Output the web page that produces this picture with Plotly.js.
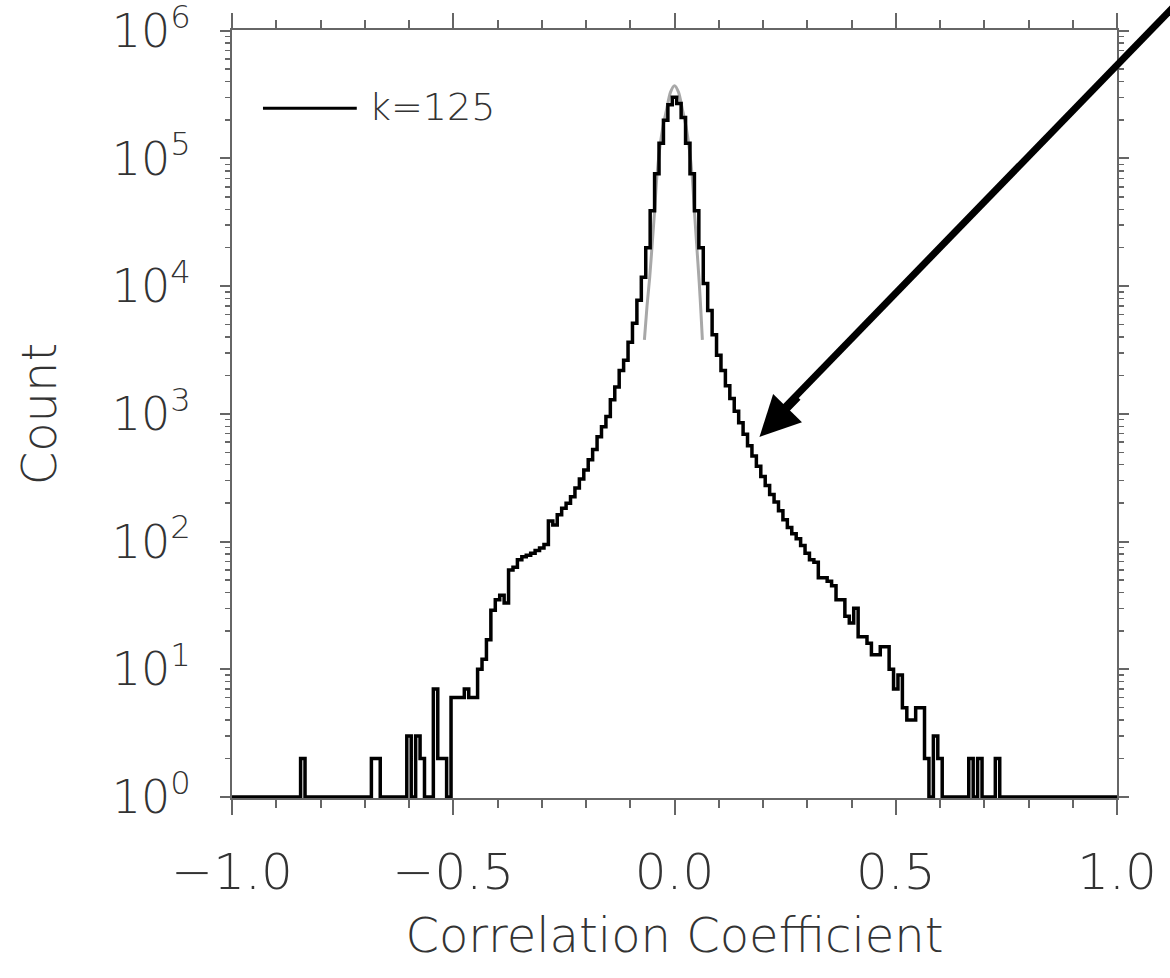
<!DOCTYPE html>
<html>
<head>
<meta charset="utf-8">
<script src="https://cdn.plot.ly/plotly-3.0.1.min.js"></script>
<style>
  html, body { margin: 0; padding: 0; background: #ffffff; }
  #chart { width: 1170px; height: 978px; }
</style>
</head>
<body>
<div id="chart"></div>
<script>
// ---- Data ----
// Histogram bin centres: -1.00 ... 1.00, width 0.01
const binStart = -1.0;
const binWidth = 0.01;

// Counts, left tail (-1.00 .. -0.51)
const countsLeftTail = [
  1, 1, 1, 1, 1, 1, 1, 1, 1, 1, 1, 1, 1, 1, 1, 1,      // -1.00 .. -0.85
  2,                                                   // -0.84
  1, 1, 1, 1, 1, 1, 1, 1, 1, 1, 1, 1, 1, 1, 1,         // -0.83 .. -0.69
  2, 2,                                                // -0.68, -0.67
  1, 1, 1, 1, 1, 1,                                    // -0.66 .. -0.61
  3, 1, 3, 2, 1, 1, 7, 2, 2, 1                         // -0.60 .. -0.51
];
// Counts, left flank (-0.50 .. -0.01)
const countsLeftFlank = [
  6, 6, 6, 7, 6, 6, 10, 12, 17, 29,                    // -0.50 .. -0.41
  35, 38, 33, 60, 63, 72, 76, 78, 81, 85,              // -0.40 .. -0.31
  89, 95, 145, 135, 162, 182, 200, 224, 263, 309,      // -0.30 .. -0.21
  363, 437, 525, 661, 794, 955, 1288, 1622, 2188, 2630,// -0.20 .. -0.11
  3631, 5129, 7762, 11750, 19950, 38900, 75860, 131800, 199500, 263000 // -0.10 .. -0.01
];
// Peak bin (0.00)
const countsPeak = [302000];
// Counts, right flank (0.01 .. 0.60)
const countsRightFlank = [
  269200, 208900, 131800, 75860, 38900, 19950, 10470, 6457, 4169, 2884, // 0.01 .. 0.10
  2188, 1660, 1318, 1047, 851, 692, 562, 468, 389, 324,                 // 0.11 .. 0.20
  275, 234, 204, 174, 148, 129, 115, 105, 93, 81,                       // 0.21 .. 0.30
  72, 69, 52, 52, 49, 45, 35, 35, 26, 23,                               // 0.31 .. 0.40
  30, 18, 18, 16, 13, 13, 15, 15, 10, 7,                                // 0.41 .. 0.50
  9, 5, 4, 4, 5, 5, 2, 1, 3, 2                                          // 0.51 .. 0.60
];
// Counts, right tail (0.61 .. 1.00)
const countsRightTail = [
  1, 1, 1, 1, 1, 1,                                    // 0.61 .. 0.66
  2, 1, 2, 1, 1, 1, 2,                                 // 0.67 .. 0.73
  1, 1, 1, 1, 1, 1, 1, 1, 1, 1, 1, 1, 1, 1,            // 0.74 .. 0.87
  1, 1, 1, 1, 1, 1, 1, 1, 1, 1, 1, 1, 1                // 0.88 .. 1.00
];

// Gray fitted curve near the peak
const fitX = [-0.068, -0.062, -0.056, -0.050, -0.045, -0.040, -0.034, -0.026, -0.018, -0.009, 0.0,
              0.009, 0.018, 0.026, 0.034, 0.040, 0.045, 0.050, 0.056, 0.060, 0.063];
const fitY = [3800, 7080, 11750, 22400, 38900, 70800, 114800, 177800, 239900, 331100, 371500,
              331100, 239900, 177800, 114800, 72000, 38900, 21400, 10500, 6030, 3800];

// Axis tick labels
const xTickVals = [-1.0, -0.5, 0.0, 0.5, 1.0];
const xTickText = ['\u22121.0', '\u22120.5', '0.0', '0.5', '1.0'];
const yTickVals = [1, 10, 100, 1000, 10000, 100000, 1000000];
const yTickText = ['10<sup>0</sup>', '10<sup>1</sup>', '10<sup>2</sup>', '10<sup>3</sup>',
                   '10<sup>4</sup>', '10<sup>5</sup>', '10<sup>6</sup>'];
const legendLabel = 'k=125';
const xTitle = 'Correlation Coefficient';
const yTitle = 'Count';

// Arrow target (data coords)
const arrowX = 0.192;
const arrowY = 660;

// ---- Build ----
const counts = [].concat(countsLeftTail, countsLeftFlank, countsPeak, countsRightFlank, countsRightTail);
const binX = counts.map((_, i) => +(binStart + i * binWidth).toFixed(2));

// minor tick positions on log axis (2..9 per decade)
const yMinor = [];
for (let d = 0; d < 6; d++) for (let m = 2; m <= 9; m++) yMinor.push(m * Math.pow(10, d));

const FONT = '"DejaVu Sans", sans-serif';
const TXT = '#333333';
const AX = '#666666';

const traces = [
  {
    x: fitX, y: fitY, type: 'scatter', mode: 'lines',
    line: { color: '#a8a8a8', width: 3, shape: 'spline', smoothing: 0.8 },
    hoverinfo: 'skip', showlegend: false
  },
  {
    x: binX, y: counts, type: 'scatter', mode: 'lines',
    line: { color: '#000000', width: 3.5, shape: 'hvh' },
    hoverinfo: 'skip', showlegend: false
  }
];

const layout = {
  width: 1170, height: 978,
  margin: { l: 232, r: 53, t: 30, b: 180 },
  paper_bgcolor: '#ffffff', plot_bgcolor: '#ffffff',
  showlegend: false,
  font: { family: FONT, color: TXT, weight: 300 },
  xaxis: {
    range: [-1, 1], showgrid: false, zeroline: false,
    showline: true, linecolor: AX, linewidth: 2, mirror: 'allticks',
    tickmode: 'array', tickvals: xTickVals, ticktext: xTickText,
    ticks: 'outside', ticklen: 15, tickwidth: 2, tickcolor: AX,
    tickfont: { family: FONT, size: 50, color: TXT, weight: 300 },
    ticklabelstandoff: 14, ticklabeloverflow: 'allow',
    minor: { ticks: 'outside', ticklen: 8, tickwidth: 2, tickcolor: AX, dtick: 0.1, tick0: 0, showgrid: false },
    title: { text: xTitle, font: { family: FONT, size: 48, color: TXT, weight: 300 }, standoff: 18 }
  },
  yaxis: {
    type: 'log', range: [-0.008, 6.006], showgrid: false, zeroline: false,
    showline: true, linecolor: AX, linewidth: 2, mirror: 'allticks',
    tickmode: 'array', tickvals: yTickVals, ticktext: yTickText,
    ticks: 'outside', ticklen: 10, tickwidth: 2, tickcolor: AX,
    tickfont: { family: FONT, size: 46, color: TXT, weight: 300 },
    ticklabelstandoff: 20, ticklabeloverflow: 'allow',
    minor: { ticks: 'outside', ticklen: 5, tickwidth: 1.5, tickcolor: AX, tickmode: 'array', tickvals: yMinor, showgrid: false },
    title: { text: yTitle, font: { family: FONT, size: 48, color: TXT, weight: 300 }, standoff: 40 }
  },
  shapes: [
    // legend sample line
    { type: 'line', xref: 'paper', yref: 'paper', x0: 0.035, x1: 0.141, y0: 0.898, y1: 0.898,
      line: { color: '#000000', width: 3 } },
    // arrow shaft, running off the top-right corner of the page
    { type: 'line', xref: 'paper', yref: 'paper', x0: 0.614, y0: 0.496, x1: 1.068, y1: 1.035,
      line: { color: '#000000', width: 7 } }
  ],
  annotations: [
    { xref: 'paper', yref: 'paper', x: 0.153, y: 0.900, xanchor: 'left', yanchor: 'middle',
      text: legendLabel, showarrow: false, font: { family: FONT, size: 38, color: TXT, weight: 300 } },
    // arrow head
    { xref: 'x', yref: 'y', x: arrowX, y: Math.log10(arrowY), text: '', showarrow: true,
      ax: 40, ay: -41, axref: 'pixel', ayref: 'pixel',
      arrowhead: 2, arrowsize: 1.15, arrowwidth: 7, arrowcolor: '#000000', standoff: 0 }
  ]
};

Plotly.newPlot('chart', traces, layout, { staticPlot: true, displayModeBar: false });
</script>
</body>
</html>
